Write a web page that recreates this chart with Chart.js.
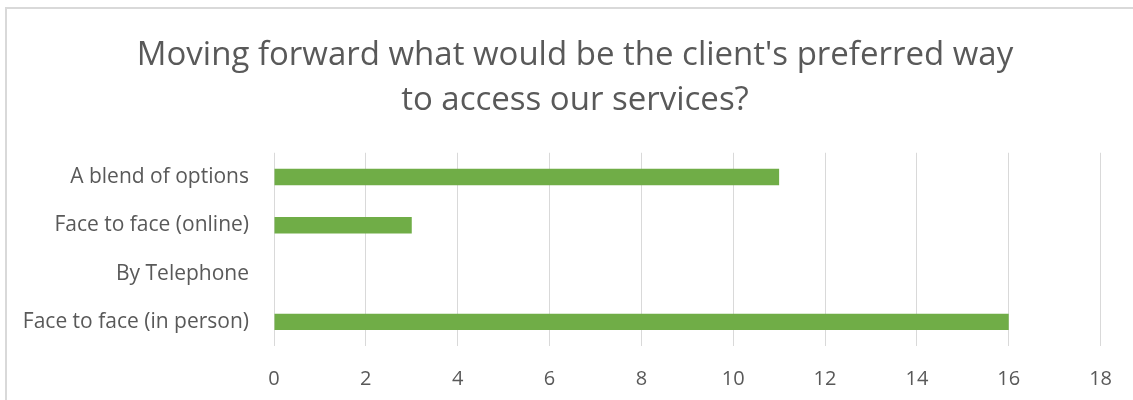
<!DOCTYPE html>
<html>
<head>
    <title>Preferred access</title>
    <script src="https://cdn.jsdelivr.net/npm/chart.js"></script>
    <style>
        html, body { margin: 0; padding: 0; background: #fff; overflow: hidden; }
        .frame {
            position: absolute; left: 5px; top: 7px;
            width: 1200px; height: 500px;
            border: 2px solid #d9d9d9;
        }
        .chart-box { position: absolute; left: 0; top: 0; width: 1133px; height: 400px; }
    </style>
</head>
<body>
    <div class="frame"></div>
    <div class="chart-box">
        <canvas id="accessChart"></canvas>
    </div>

    <script>
        // survey answers, listed top to bottom as drawn
        const answers = ['A blend of options', 'Face to face (online)', 'By Telephone', 'Face to face (in person)'];
        const counts = [11, 3, 0, 16];
        const titleLines = ["Moving forward what would be the client's preferred way", 'to access our services?'];

        const textColor = '#595959';
        const fontFamily = '"Open Sans", sans-serif';

        // centre the title a bit right of the canvas middle
        const titleShift = {
            id: 'titleShift',
            afterLayout(chart) {
                chart.titleBlock.left = 48;
                chart.titleBlock.right = chart.width - 31;
            }
        };

        const ctx = document.getElementById('accessChart').getContext('2d');
        new Chart(ctx, {
            type: 'bar',
            data: {
                labels: answers,
                datasets: [{
                    data: counts,
                    backgroundColor: '#70ad47',
                    borderWidth: 0,
                    categoryPercentage: 1,
                    barPercentage: 0.34
                }]
            },
            options: {
                indexAxis: 'y',
                responsive: true,
                maintainAspectRatio: false,
                animation: false,
                layout: { padding: { left: 0, right: 31, top: 0, bottom: 0 } },
                plugins: {
                    legend: { display: false },
                    tooltip: { enabled: false },
                    title: {
                        display: true,
                        text: titleLines,
                        color: textColor,
                        font: { family: fontFamily, size: 33, weight: 'normal', lineHeight: 1.36 },
                        padding: { top: 33, bottom: 30 }
                    }
                },
                scales: {
                    x: {
                        min: 0,
                        max: 18,
                        ticks: {
                            stepSize: 2,
                            color: textColor,
                            font: { family: fontFamily, size: 20 },
                            padding: 21
                        },
                        grid: { color: '#d9d9d9', lineWidth: 1, drawTicks: false },
                        border: { display: false },
                        afterFit: (scale) => { scale.height = 54; }
                    },
                    y: {
                        ticks: {
                            color: textColor,
                            font: { family: fontFamily, size: 21 },
                            padding: 17
                        },
                        grid: { display: false },
                        border: { display: false },
                        afterFit: (scale) => { scale.width = 274; }
                    }
                }
            },
            plugins: [titleShift]
        });
    </script>
</body>
</html>
